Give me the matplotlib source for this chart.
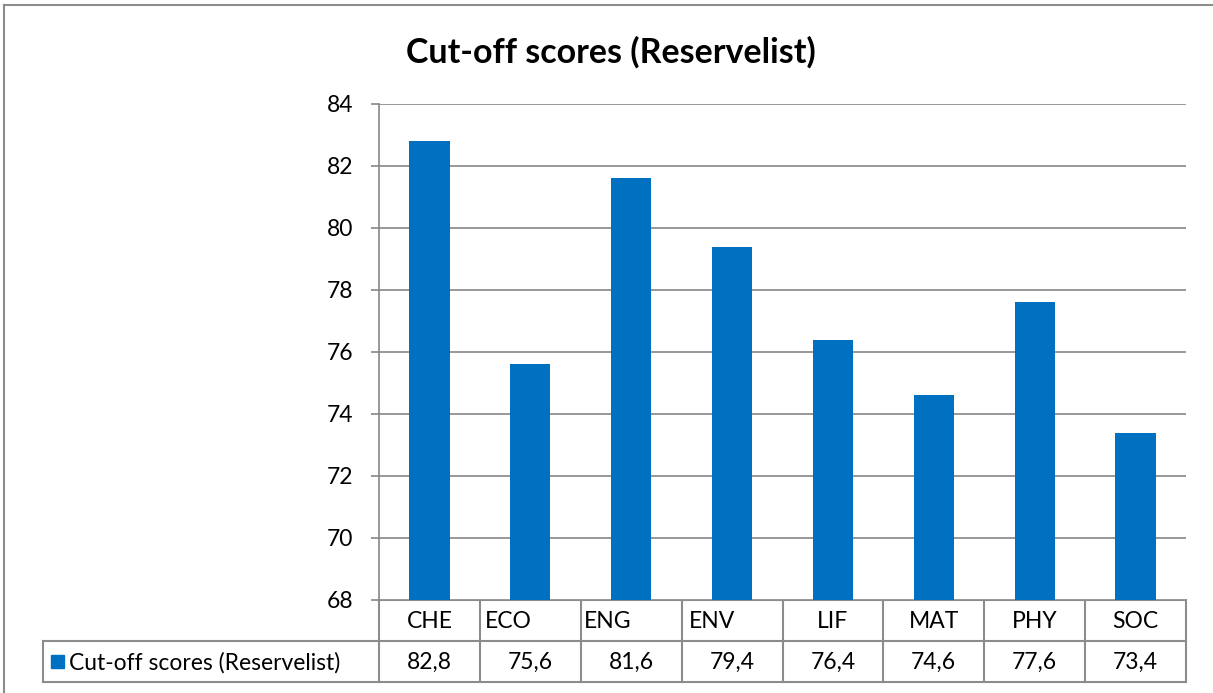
import matplotlib.pyplot as plt
import numpy as np

plt.rcParams['font.family'] = ['Lato', 'DejaVu Sans']

categories = ["CHE", "ECO", "ENG", "ENV", "LIF", "MAT", "PHY", "SOC"]
scores = [82.8, 75.6, 81.6, 79.4, 76.4, 74.6, 77.6, 73.4]
score_labels = ["82,8", "75,6", "81,6", "79,4", "76,4", "74,6", "77,6", "73,4"]
series_name = "Cut-off scores (Reservelist)"
# Excel places some category labels oddly; offsets inside each cell (fraction of cell)
cat_align = [0.5, 0.05, 0.03, 0.07, 0.5, 0.5, 0.5, 0.5]

W, H = 1213, 693
bar_color = '#0070C0'
grid_color = '#868686'
line_color = '#8c8c8c'
fs = 16.5

fig = plt.figure(figsize=(W / 100, H / 100), dpi=100)

# plot area in pixels
x0, x1 = 379, 1186
y_top, y_bot = 104, 600
ax = fig.add_axes([x0 / W, 1 - y_bot / H, (x1 - x0) / W, (y_bot - y_top) / H])

n = len(categories)
ax.bar(np.arange(n), scores, width=0.4, color=bar_color, zorder=3)
ax.set_xlim(-0.5, n - 0.5)
ax.set_ylim(68, 84)
ax.set_yticks(np.arange(68, 85, 2))
ax.grid(axis='y', color=grid_color, linewidth=1.2, zorder=0)
ax.set_xticks([])
for s in ['top', 'right', 'bottom']:
    ax.spines[s].set_visible(False)
ax.spines['left'].set_color(grid_color)
ax.spines['left'].set_linewidth(1.2)
ax.tick_params(axis='y', length=5.8, width=1.2, color=grid_color, labelsize=fs, pad=13)

fig.text(611 / W, 1 - 52 / H, series_name, ha='center', va='center',
         fontsize=24.5, fontweight='bold')

# overlay in pixel coordinates for the chart border and data table
ov = fig.add_axes([0, 0, 1, 1], zorder=-1)
ov.set_xlim(0, W)
ov.set_ylim(H, 0)
ov.axis('off')

# outer chart border (top and left visible)
ov.plot([4, W], [5, 5], color=line_color, lw=1.5)
ov.plot([4, 4], [5, H], color=line_color, lw=1.5)

row1, row2, row3 = 600, 641, 682
cw = (x1 - x0) / n
tl = dict(color=line_color, lw=1.5)
ov.plot([x0, x1], [row1, row1], **tl)
ov.plot([43, x1], [row2, row2], **tl)
ov.plot([43, x1], [row3, row3], **tl)
ov.plot([43, 43], [row2, row3], **tl)
for k in range(n + 1):
    ov.plot([x0 + k * cw, x0 + k * cw], [row1, row3], **tl)

for i, (cat, val) in enumerate(zip(categories, score_labels)):
    a = cat_align[i]
    xc = x0 + i * cw + a * cw
    ov.text(xc, (row1 + row2) / 2 + 1, cat, ha='center' if a == 0.5 else 'left',
            va='center', fontsize=fs)
    ov.text(x0 + (i + 0.5) * cw, (row2 + row3) / 2 + 1, val, ha='center',
            va='center', fontsize=fs)

ov.add_patch(plt.Rectangle((51, 655), 13, 13, color=bar_color))
ov.text(69, (row2 + row3) / 2 + 1, series_name, ha='left', va='center', fontsize=fs)

fig.savefig("out.png", dpi=100)
